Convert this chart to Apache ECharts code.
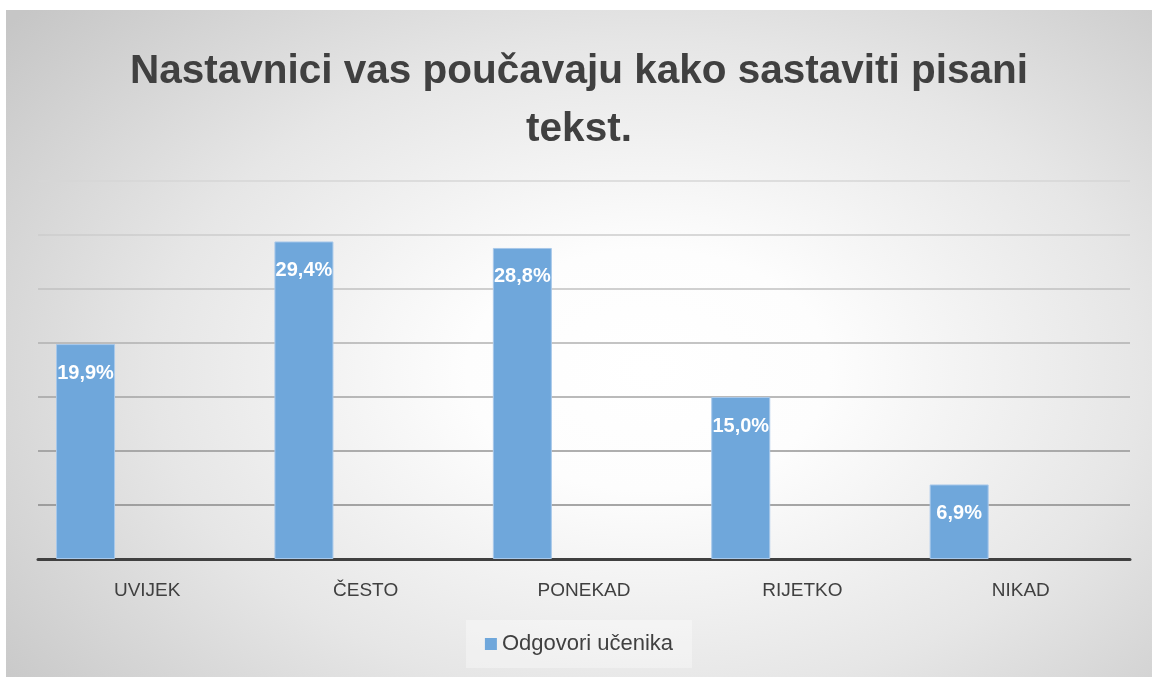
<!DOCTYPE html>
<html lang="hr">
<head>
  <meta charset="UTF-8">
  <title>Nastavnici vas poučavaju</title>
  <script src="https://cdn.jsdelivr.net/npm/echarts@6/dist/echarts.min.js"></script>
  <style>
    html, body { margin: 0; padding: 0; background: #fff; }
    #main {
      position: absolute; left: 6px; top: 10px; width: 1146px; height: 667px;
      background: radial-gradient(ellipse 72% 82% at 56% 54%, #ffffff 0%, #fdfdfd 22%, #e6e6e6 60%, #c6c6c6 100%);
    }
  </style>
</head>
<body>
<div id="main"></div>
<script type="text/javascript">
  var categories = ['UVIJEK', 'ČESTO', 'PONEKAD', 'RIJETKO', 'NIKAD'];
  var values = [19.9, 29.4, 28.8, 15.0, 6.9];
  var seriesName = 'Odgovori učenika';
  var titleText = 'Nastavnici vas poučavaju kako sastaviti pisani\ntekst.';

  var font = '"Liberation Sans", sans-serif';
  var myChart = echarts.init(document.getElementById('main'));

  myChart.setOption({
    backgroundColor: 'transparent',
    animation: false,
    title: {
      text: titleText,
      left: 'center',
      top: 28,
      textStyle: {
        fontFamily: font,
        fontSize: 40.5,
        fontWeight: 'bold',
        color: '#404040',
        lineHeight: 58
      }
    },
    legend: {
      data: [{ name: seriesName, icon: 'rect' }],
      left: 'center',
      top: 610,
      itemWidth: 12,
      itemHeight: 12,
      itemGap: 6,
      itemStyle: { borderWidth: 0 },
      padding: [13, 19],
      backgroundColor: 'rgba(255,255,255,0.35)',
      textStyle: { fontFamily: font, fontSize: 22, color: '#404040' }
    },
    grid: { left: 32, right: 22, top: 171, bottom: 118 },
    xAxis: {
      type: 'category',
      data: categories,
      axisTick: { show: false },
      axisLine: { lineStyle: { color: '#404040', width: 3 } },
      axisLabel: {
        margin: 22,
        fontFamily: font,
        fontSize: 19,
        color: '#404040'
      }
    },
    yAxis: {
      type: 'value',
      min: 0,
      max: 35,
      interval: 5,
      axisLabel: { show: false },
      axisLine: { show: false },
      splitLine: {
        lineStyle: {
          color: ['#858585', '#8a8a8a', '#959595', '#a3a3a3', '#b0b0b0', '#c0c0c0', '#cccccc', '#d6d6d6'],
          width: 1.5
        }
      }
    },
    series: [
      {
        name: seriesName,
        type: 'bar',
        data: values,
        barWidth: 59,
        barGap: '109%',
        itemStyle: {
          color: '#6fa7db',
          borderColor: '#a8c8ea',
          borderWidth: 1
        },
        label: {
          show: true,
          position: 'insideTop',
          distance: 19,
          fontFamily: font,
          fontSize: 20,
          fontWeight: 'bold',
          color: '#ffffff',
          formatter: function (p) {
            return p.value.toFixed(1).replace('.', ',') + '%';
          }
        }
      },
      {
        name: 'prazno',
        type: 'bar',
        data: [null, null, null, null, null],
        barWidth: 59
      }
    ]
  });
</script>
</body>
</html>
